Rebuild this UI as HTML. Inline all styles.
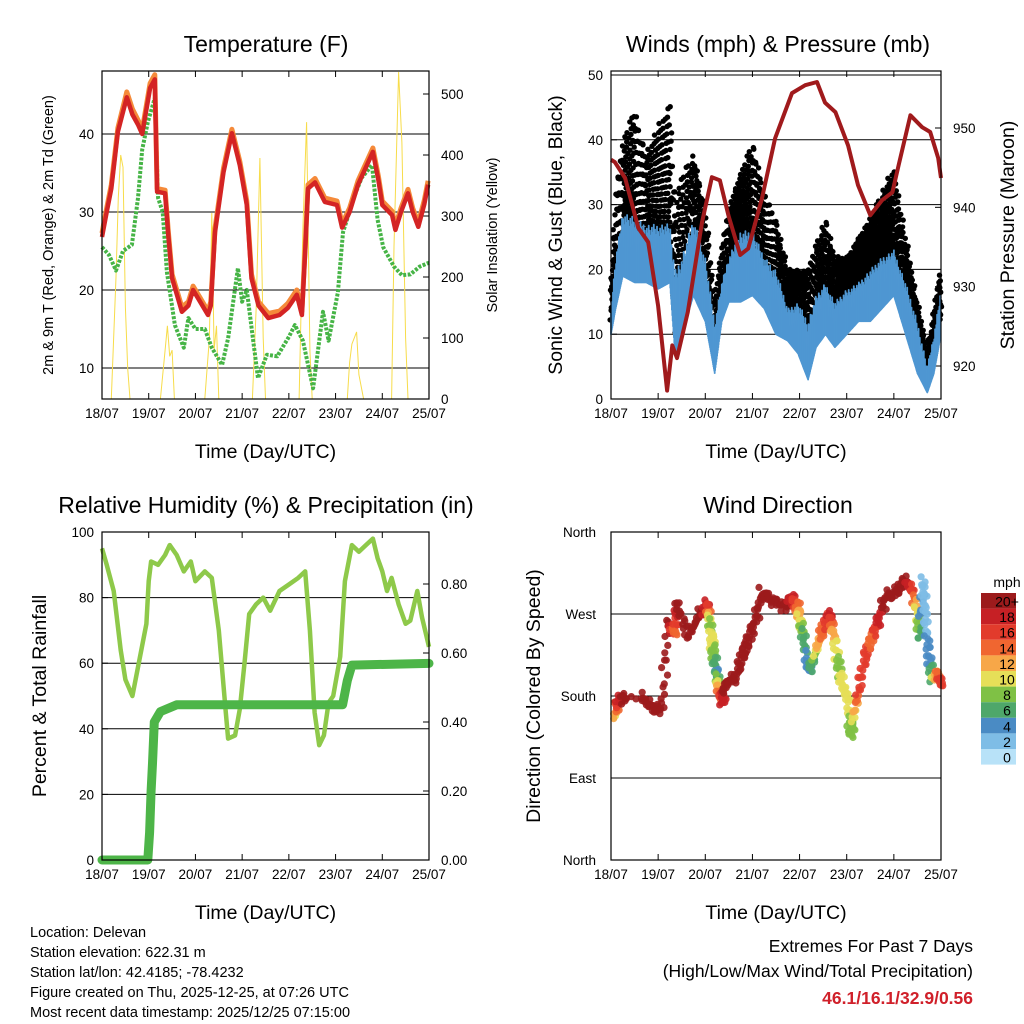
<!DOCTYPE html>
<html><head><meta charset="utf-8"><style>
html,body{margin:0;padding:0;background:#fff}
svg{display:block;font-family:"Liberation Sans",sans-serif}
</style></head><body>
<svg id="c" width="1024" height="1024" viewBox="0 0 1024 1024" xmlns="http://www.w3.org/2000/svg">
<g id="g1"></g>
<g id="g2"></g>
<g id="g3"></g>
<g id="g4"></g>
<g font-size="14.5" fill="#000">
<text x="30" y="937">Location: Delevan</text>
<text x="30" y="957">Station elevation: 622.31 m</text>
<text x="30" y="977">Station lat/lon: 42.4185; -78.4232</text>
<text x="30" y="997">Figure created on Thu, 2025-12-25, at 07:26 UTC</text>
<text x="30" y="1017">Most recent data timestamp: 2025/12/25 07:15:00</text>
</g>
<g text-anchor="end">
<text x="973" y="952" font-size="17.5">Extremes For Past 7 Days</text>
<text x="973" y="977" font-size="17.5">(High/Low/Max Wind/Total Precipitation)</text>
<text x="973" y="1004" font-size="17.5" font-weight="bold" fill="#d0202a">46.1/16.1/32.9/0.56</text>
</g>
</svg>
<script>
// ---- data arrays ----
const dayLabels=["18/07","19/07","20/07","21/07","22/07","23/07","24/07","25/07"];
const tempTicks=[10,20,30,40];
const solarTicks=[0,100,200,300,400,500];
const tempT=[0,0.1,0.2,0.34,0.53,0.65,0.77,0.86,1.03,1.13,1.18,1.35,1.42,1.5,1.71,1.85,1.95,2.1,2.27,2.33,2.42,2.6,2.78,2.95,3.1,3.2,3.35,3.56,3.8,3.98,4.17,4.28,4.35,4.41,4.56,4.77,5.03,5.14,5.3,5.48,5.8,5.92,6.0,6.21,6.28,6.4,6.55,6.65,6.77,6.9,6.98];
const tempRed=[26.8,30,33,40.3,44.7,42.5,41.2,40,45.9,47,32.6,32.4,27,21.5,17.2,18,20,18.5,16.8,18,27.4,35.1,40.1,36,30.9,21.5,18,16.4,16.8,17.7,19.4,16.8,25,33,33.8,31.3,30.9,28,30,33.5,37.7,34,30.9,29.6,27.7,30,32.4,30,28.1,31,33.5];
const tempOrange=[27.3,30.5,33.5,40.8,45.4,43.2,41.8,40.5,46.5,47.6,33,32.8,27.5,22,17.8,18.5,20.5,19,17.3,18.5,27.9,35.6,40.6,36.5,31.4,22,18.5,17,17.3,18.3,20,17.3,25.5,33.5,34.3,31.8,31.4,28.5,30.5,34,38.2,34.5,31.4,30.1,28.2,30.5,32.9,30.5,28.6,31.5,34];
const dewT=[0,0.15,0.3,0.45,0.64,0.77,0.86,0.98,1.13,1.2,1.3,1.39,1.56,1.75,1.85,2.0,2.2,2.35,2.57,2.7,2.91,3.0,3.1,3.23,3.34,3.53,3.75,4.0,4.13,4.3,4.52,4.73,4.85,5.05,5.16,5.4,5.56,5.78,5.9,6.02,6.25,6.42,6.6,6.8,7.0];
const dewVal=[25.5,24.5,22.5,25,25.8,31.8,38,41.5,44.6,31.8,30,22.3,15.5,12.6,16.4,15,15,12.6,10.4,13.8,22.8,18.5,20,13.8,8.7,11.7,11.5,14,15.5,13.5,7.4,17.2,13.5,19.7,27.4,32,34.4,36,29,25.5,23,21.9,22,23,23.5];
const solarT=[0,0.2,0.3,0.35,0.4,0.45,0.5,0.55,0.6,1.25,1.35,1.4,1.45,1.5,1.55,2.2,2.3,2.35,2.4,2.45,2.5,3.22,3.3,3.38,3.45,3.5,4.22,4.3,4.38,4.45,4.5,5.25,5.3,5.35,5.45,5.5,5.6,6.2,6.25,6.35,6.42,6.5,6.55,7.0];
const solarVal=[0,0,200,330,400,380,150,50,0,0,80,120,70,80,0,0,100,305,80,120,0,0,150,395,100,0,0,280,454,80,0,0,60,90,110,40,0,0,250,536,420,100,0,0];

const windTicks=[0,10,20,30,40,50];
const presTicks=[920,930,940,950];
const presT=[0,0.08,0.3,0.58,0.79,1.0,1.19,1.3,1.4,1.63,1.93,2.14,2.31,2.49,2.74,2.91,3.2,3.48,3.84,4.12,4.37,4.54,4.76,5.03,5.24,5.5,5.75,5.97,6.1,6.35,6.6,6.77,6.94,7.0];
const presVal=[946,945.7,943.7,937.4,935.6,927.6,916.9,922.6,921,926.8,938.1,943.8,943.4,939,934,934.8,941.1,948.7,954.4,955.4,955.8,953.2,952,947.8,942.8,939,940.9,941.9,945.3,951.6,950.1,949.5,946.2,943.7];
const windT=[0,0.1,0.25,0.5,0.75,1.0,1.25,1.36,1.5,1.75,2.0,2.2,2.35,2.5,2.75,3.0,3.25,3.5,3.75,3.97,4.18,4.35,4.55,4.75,5.0,5.25,5.5,5.75,6.0,6.25,6.5,6.71,6.85,7.0];
const windLo=[10,14,19,18,18,17,18,7,10,16,12,4,12,15,15,16,14,10,9,7,3,8,10,8,10,12,12,14,16,10,4,1,4,10];
const windHi=[14,22,29,28,27,27,27,20,22,28,22,12,18,22,26,26,22,20,14,15,12,16,18,15,17,18,20,22,23,18,12,5,10,17];
const gustLo=[12,18,24,26,24,24,25,10,12,24,15,8,15,20,22,23,19,15,12,10,8,12,15,12,14,16,17,19,21,15,6,3,6,14];
const gustHi=[18,32,40,45,38,42,46,30,35,38,30,15,24,30,35,40,32,28,20,20,20,24,28,22,22,25,28,32,36,25,15,8,14,20];

const rhTicks=[0,20,40,60,80,100];
const pcpTicks=[0,0.2,0.4,0.6,0.8];
const rhT=[0,0.1,0.25,0.4,0.5,0.65,0.8,0.95,1.0,1.05,1.2,1.35,1.45,1.6,1.75,1.9,2.0,2.2,2.35,2.5,2.65,2.7,2.85,2.95,3.05,3.15,3.3,3.45,3.6,3.8,4.0,4.2,4.35,4.45,4.55,4.65,4.75,4.85,4.95,5.1,5.2,5.35,5.5,5.65,5.8,5.9,6.0,6.1,6.2,6.35,6.5,6.6,6.75,6.85,7.0];
const rhVal=[95,90,82,64,55,50,61,72,85,91,90,93,96,93,88,91,85,88,86,70,45,37,38,46,60,75,78,80,76,82,84,86,88,70,45,35,38,48,50,62,85,96,94,96,98,92,88,82,86,78,72,73,82,74,65];
const pcpT=[0,0.98,1.02,1.05,1.08,1.12,1.25,1.6,5.15,5.25,5.35,7.0];
const pcpVal=[0,0,0.08,0.2,0.28,0.4,0.43,0.45,0.45,0.52,0.565,0.57];

const dirLabels=["North","East","South","West","North"];
const wdT=[0.08,0.15,0.3,0.66,0.87,1.08,1.21,1.36,1.4,1.64,1.85,2.04,2.1,2.14,2.17,2.25,2.27,2.36,2.42,2.63,2.78,2.91,3.06,3.2,3.42,3.69,3.84,3.95,4.01,4.08,4.18,4.27,4.4,4.48,4.65,4.71,4.82,4.9,5.03,5.08,5.12,5.24,5.39,5.54,5.67,5.82,6.03,6.24,6.39,6.5,6.56,6.62,6.67,6.73,6.81,6.92,7.0];
const wdDir=[157,175,179,178,168,165,260,249,282,245,267,282,260,241,227,205,190,172,194,198,223,241,263,293,285,278,288,278,263,245,209,216,238,252,271,249,216,194,176,137,150,183,223,245,263,289,293,307,296,271,245,307,267,227,201,205,194];
const wdSpd=[10,18,20,20,20,20,20,14,20,20,20,18,8,10,8,4,12,18,20,20,20,20,20,20,20,20,18,14,10,6,4,6,12,14,18,12,8,10,10,8,8,16,16,14,18,20,20,20,16,10,6,2,2,4,6,14,16];
const cbLabels=["20+","18","16","14","12","10","8","6","4","2","0"];
const cbColors=["#9c1b1c","#c62025","#e23b2c","#f06630","#f7a748","#e6df58","#7fc145","#4ea76a","#4a8bc4","#7ebde6","#b8e2f8"];

// ---- helpers ----
const NS="http://www.w3.org/2000/svg";
const PHI=0.6180339887;
function frac(v){return v-Math.floor(v);}
function mk(parent,tag,attrs,txt){const e=document.createElementNS(NS,tag);for(const k in attrs)e.setAttribute(k,attrs[k]);if(txt!==undefined)e.textContent=txt;parent.appendChild(e);return e;}
function lin(d0,d1,r0,r1){return v=>r0+(v-d0)/(d1-d0)*(r1-r0);}
function pathD(xs,ys,sx,sy){return xs.map((t,i)=>(i?"L":"M")+sx(t).toFixed(1)+","+sy(ys[i]).toFixed(1)).join("");}
function colorFor(s){let i=Math.min(10,Math.max(0,Math.round(s/2)));return cbColors[10-i];}

function frame(g,x0,x1,y0,y1,title,titleX){
  const t=mk(g,"text",{x:titleX,y:y0-19,"font-size":23,"text-anchor":"middle"},title);
  
  
  const sx=lin(0,7,x0,x1);
  dayLabels.forEach((d,i)=>{
    const x=sx(i);
    const l=mk(g,"text",{x:x,y:y1+19,"font-size":13.5,"text-anchor":"middle"},d);
    
    
    mk(g,"line",{x1:x,x2:x,y1:y1,y2:y1-6,stroke:"#000"});
    mk(g,"line",{x1:x,x2:x,y1:y0,y2:y0+6,stroke:"#000"});
  });
  const xt=mk(g,"text",{x:(x0+x1)/2,y:y1+59,"font-size":19.5,"text-anchor":"middle"},"Time (Day/UTC)");
  
  
  return sx;
}
function box(g,x0,x1,y0,y1){
  const r=mk(g,"rect",{x:x0,y:y0,width:x1-x0,height:y1-y0,fill:"none",stroke:"#000","stroke-width":1.2});
  
  
}
function leftTicks(g,ticks,sy,x0,x1,fmt,grid){
  ticks.forEach(v=>{
    const y=sy(v);
    if(grid)mk(g,"line",{x1:x0,x2:x1,y1:y,y2:y,stroke:"#000","stroke-width":1});
    mk(g,"line",{x1:x0,x2:x0+6,y1:y,y2:y,stroke:"#000"});
    const l=mk(g,"text",{x:x0-8,y:y+5,"font-size":13.5,"text-anchor":"end"},fmt?fmt(v):v);
    
    
  });
}
function rightTicks(g,ticks,sy,x1,fmt){
  ticks.forEach(v=>{
    const y=sy(v);
    mk(g,"line",{x1:x1,x2:x1-6,y1:y,y2:y,stroke:"#000"});
    const l=mk(g,"text",{x:x1+12,y:y+5,"font-size":13.5},fmt?fmt(v):v);
    
    
  });
}
function vtitle(g,x,y,size,txt,name){
  const t=mk(g,"text",{x:0,y:0,"font-size":size,"text-anchor":"middle",transform:`translate(${x},${y}) rotate(-90)`},txt);
  
  
}

// ---- panel 1: temperature ----
(function(){
  const g=document.getElementById("g1");
  const x0=102,x1=429,y0=71,y1=399;
  const sx=frame(g,x0,x1,y0,y1,"Temperature (F)",266);
  const sy=lin(10,40,368,134);
  const sr=lin(0,500,399,94);
  leftTicks(g,tempTicks,sy,x0,x1,null,true);
  rightTicks(g,solarTicks,sr,x1);
  const s=mk(g,"path",{d:pathD(solarT,solarVal,sx,sr),fill:"none",stroke:"#f7dc4a","stroke-width":1});
  
  
  const d=mk(g,"path",{d:pathD(dewT,dewVal,sx,sy),fill:"none",stroke:"#46b446","stroke-width":4,"stroke-dasharray":"3 1.5","stroke-linejoin":"round"});
  
  
  const o=mk(g,"path",{d:pathD(tempT,tempOrange,sx,sy),fill:"none",stroke:"#f58a3a","stroke-width":5,"stroke-linejoin":"round"});
  
  
  const r=mk(g,"path",{d:pathD(tempT,tempRed,sx,sy),fill:"none",stroke:"#d42424","stroke-width":4.5,"stroke-linejoin":"round"});
  
  
  box(g,x0,x1,y0,y1);
  vtitle(g,53,235,14.5,"2m & 9m T (Red, Orange) & 2m Td (Green)","left-axis-title");
  vtitle(g,497,235,14.5,"Solar Insolation (Yellow)","right-axis-title");
})();

// ---- panel 2: winds ----
(function(){
  const g=document.getElementById("g2");
  const x0=611,x1=941,y0=71,y1=399;
  const sx=frame(g,x0,x1,y0,y1,"Winds (mph) & Pressure (mb)",778);
  const sy=lin(0,50,399,75);
  const sp=lin(920,950,366,128);
  leftTicks(g,windTicks,sy,x0,x1,null,true);
  rightTicks(g,presTicks,sp,x1);
  mk(g,"line",{x1:x0,x2:x1,y1:75,y2:75,stroke:"#000"});
  const gg=mk(g,"g",{fill:"#000"});
  
  
  const bg=mk(g,"g",{stroke:"#4f97d2","stroke-width":1.8,"stroke-linecap":"round"});
  
  
  let n=0;
  for(let i=0;i<windT.length-1;i++){
    const steps=Math.max(4,Math.round((windT[i+1]-windT[i])*120));
    for(let k=0;k<steps;k++){
      n++;
      const f=k/steps;const t=windT[i]+(windT[i+1]-windT[i])*f;
      const glo=gustLo[i]+(gustLo[i+1]-gustLo[i])*f, ghi=gustHi[i]+(gustHi[i+1]-gustHi[i])*f;
      const wlo=windLo[i]+(windLo[i+1]-windLo[i])*f, whi=windHi[i]+(windHi[i+1]-windHi[i])*f;
      const x=sx(t);
      for(let j=0;j<3;j++){
        const q=frac((n*3+j)*PHI);
        const v=glo+(ghi-glo)*Math.pow(q,1.4);
        const c=mk(gg,"circle",{cx:(x+(frac((n*3+j)*0.4142)-0.5)*2).toFixed(1),cy:sy(v).toFixed(1),r:2.7});
        
        
      }
      const top=wlo+(whi-wlo)*(0.45+0.55*frac(n*PHI));
      const l=mk(bg,"line",{x1:x.toFixed(1),x2:x.toFixed(1),y1:sy(wlo).toFixed(1),y2:sy(top).toFixed(1)});
      
      
    }
  }
  const p=mk(g,"path",{d:pathD(presT,presVal,sx,sp),fill:"none",stroke:"#a01a1c","stroke-width":4,"stroke-linejoin":"round"});
  
  
  box(g,x0,x1,y0,y1);
  vtitle(g,562,235,19.5,"Sonic Wind & Gust (Blue, Black)","left-axis-title");
  vtitle(g,1014,235,19.5,"Station Pressure (Maroon)","right-axis-title");
})();

// ---- panel 3: RH & precip ----
(function(){
  const g=document.getElementById("g3");
  const x0=102,x1=429,y0=532,y1=860;
  const sx=frame(g,x0,x1,y0,y1,"Relative Humidity (%) & Precipitation (in)",266);
  const sy=lin(0,100,860,532);
  const sp=lin(0,0.8,860,584);
  leftTicks(g,rhTicks,sy,x0,x1,null,true);
  rightTicks(g,pcpTicks,sp,x1,v=>v.toFixed(2));
  const r=mk(g,"path",{d:pathD(rhT,rhVal,sx,sy),fill:"none",stroke:"#8ec94a","stroke-width":4.5,"stroke-linejoin":"round"});
  
  
  const p=mk(g,"path",{d:pathD(pcpT,pcpVal,sx,sp),fill:"none",stroke:"#4db548","stroke-width":9,"stroke-linejoin":"round","stroke-linecap":"round"});
  
  
  box(g,x0,x1,y0,y1);
  vtitle(g,46,696,19.5,"Percent & Total Rainfall","left-axis-title");
})();

// ---- panel 4: wind direction ----
(function(){
  const g=document.getElementById("g4");
  const x0=611,x1=941,y0=532,y1=860;
  const sx=frame(g,x0,x1,y0,y1,"Wind Direction",778);
  const sy=lin(0,360,860,532);
  [0,90,180,270,360].forEach((v,i)=>{
    const y=sy(v);
    mk(g,"line",{x1:x0,x2:x1,y1:y,y2:y,stroke:"#000"});
    const l=mk(g,"text",{x:x0-15,y:y+5,"font-size":13.5,"text-anchor":"end"},dirLabels[i]);
    
    
  });
  let n=0;
  for(let i=0;i<wdT.length;i++){
    const last=i===wdT.length-1;
    const nn=(!last&&wdT[i+1]-wdT[i]<0.3)?7:2;
    for(let k=0;k<nn;k++){
      n++;
      const f=last?0:k/nn;
      const t=wdT[i]+(last?0:(wdT[i+1]-wdT[i])*f);
      const d=wdDir[i]+(last?0:(wdDir[i+1]-wdDir[i])*f);
      const s=wdSpd[i]+(last?0:(wdSpd[i+1]-wdSpd[i])*f);
      const dx=(frac(n*PHI)-0.5)*6, dy=(frac(n*0.4142)-0.5)*12;
      const c=mk(g,"circle",{cx:(sx(t)+dx).toFixed(1),cy:(sy(d)+dy).toFixed(1),r:3.6,fill:colorFor(s),"fill-opacity":0.9});
      
      
      const c2=mk(g,"circle",{cx:(sx(t)-dx).toFixed(1),cy:(sy(d)-dy*0.5).toFixed(1),r:3.6,fill:colorFor(s),"fill-opacity":0.9});
      
      
    }
  }
  box(g,x0,x1,y0,y1);
  vtitle(g,540,696,19.5,"Direction (Colored By Speed)","left-axis-title");
  const ct=mk(g,"text",{x:1007,y:587,"font-size":14,"text-anchor":"middle"},"mph");
  
  
  cbColors.forEach((c,i)=>{
    const y=593+i*15.6;
    const r=mk(g,"rect",{x:981,y:y,width:35,height:15.6,fill:c});
    
    
    const l=mk(g,"text",{x:1007,y:y+13.5,"font-size":14,"text-anchor":"middle"},cbLabels[i]);
    
    
  });
})();
</script>
</body></html>
